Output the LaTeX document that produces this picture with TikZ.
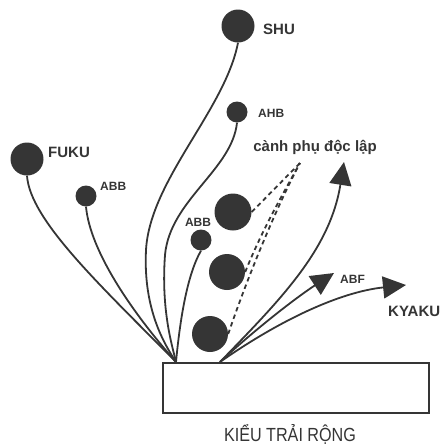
\documentclass[tikz,border=0pt]{standalone}
\usepackage{fontspec}
\setmainfont{Liberation Sans}
\newfontfamily\capfont[FakeStretch=0.85]{Liberation Sans}
\usetikzlibrary{arrows.meta}
\definecolor{ink}{HTML}{353535}
\tikzset{
  ball/.style={circle,fill=ink,draw=none,inner sep=0pt,minimum size=#1},
  stem/.style={draw=ink,line width=1.8pt},
  spur/.style={draw=ink,line width=1.8pt,dash pattern=on 4.5pt off 3.5pt},
  arr/.style={stem,-{Triangle[length=23pt,width=22pt]}},
  lab/.style={text=ink,font=\bfseries\fontsize{12}{13}\selectfont,inner sep=0pt},
  biglab/.style={text=ink,font=\bfseries\fontsize{15}{16}\selectfont,inner sep=0pt}
}
\begin{document}
\begin{tikzpicture}[x=1pt,y=-1pt]
\useasboundingbox (0,0) rectangle (445,448);
% container
\node[draw=ink,line width=1.8pt,minimum width=266pt,minimum height=50pt,inner sep=0pt] (pot) at (296,388) {};
\coordinate (bl) at (176,362);
\coordinate (br) at (220,362);
% balls
\node[ball=33pt] (shu) at (238,26) {};
\node[ball=21pt] (ahb) at (237,112) {};
\node[ball=33pt] (fuku) at (27,159) {};
\node[ball=21pt] (abbl) at (86,196) {};
\node[ball=21pt] (abbs) at (201,240) {};
\node[ball=37pt] (b1) at (233,212) {};
\node[ball=36pt] (b2) at (227,272) {};
\node[ball=36pt] (b3) at (210,334) {};
% labels
\node[biglab,anchor=west] (tshu) at (263,29) {SHU};
\node[lab,anchor=west] (tahb) at (258,113) {AHB};
\node[biglab,anchor=west] (tfuku) at (48,152) {FUKU};
\node[lab,anchor=west] (tabbl) at (100,186) {ABB};
\node[lab] (tabbs) at (198,222) {ABB};
\node[lab,anchor=west] (tabf) at (340,279) {ABF};
\node[biglab,anchor=west] (tkyaku) at (388,311) {KYAKU};
\node[text=ink,font=\bfseries\fontsize{15}{17}\selectfont,inner sep=0pt] (tind) at (315,147) {cành phụ độc lập};
\node[text=ink,font=\capfont\fontsize{19}{21}\selectfont,inner sep=0pt,anchor=base] (cap) at (290,441) {KIỂU TRẢI RỘNG};
% apex of dashed spurs
\coordinate (apex) at (300,163);
% stems
\draw[stem] (fuku.south) .. controls (30,220) and (100,285) .. (bl);
\draw[stem] (abbl.south) .. controls (90,250) and (130,310) .. (bl);
\draw[stem] (shu.south) .. controls (225,110) and (150,180) .. (146,250) .. controls (143,310) and (165,345) .. (bl);
\draw[stem] (ahb.south) .. controls (232,170) and (170,200) .. (165,255) .. controls (161,310) and (172,345) .. (bl);
\draw[stem] (abbs.south) .. controls (187,275) and (180,320) .. (bl);
% arrows
\coordinate (tipup) at (344,162);
\coordinate (tipabf) at (334,273);
\coordinate (tipky) at (406,285);
\draw[arr] (br) .. controls (280,300) and (330,250) .. (tipup);
\draw[arr] (br) .. controls (260,325) and (300,295) .. (tipabf);
\draw[arr] (br) .. controls (280,320) and (340,292) .. (tipky);
% dashed spurs
\draw[spur] (b1.east) -- (apex);
\draw[spur] (b2.east) .. controls (262,230) and (285,190) .. (apex);
\draw[spur] (b3.east) .. controls (250,270) and (280,200) .. (apex);
\end{tikzpicture}
\end{document}
